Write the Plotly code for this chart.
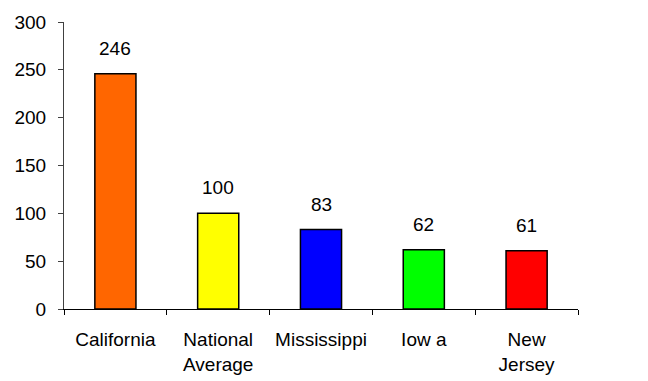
import plotly.graph_objects as go

# Index values by state, national average = 100
categories = ["California", "National<br>Average", "Mississippi", "Iow a", "New<br>Jersey"]
values = [246, 100, 83, 62, 61]
bar_colors = ["#FF6600", "#FFFF00", "#0000FF", "#00FF00", "#FF0000"]

y_ticks = [0, 50, 100, 150, 200, 250, 300]

FONT = "Arial, 'Liberation Sans', sans-serif"

fig = go.Figure()
fig.add_trace(go.Bar(
    x=categories,
    y=values,
    width=0.4,
    marker=dict(color=bar_colors, line=dict(color="#000000", width=1.5)),
    hoverinfo="x+y",
))

# value labels above each bar
for c, v in zip(categories, values):
    fig.add_annotation(
        x=c, y=v, text=str(v), showarrow=False,
        xref="x", yref="y", yanchor="bottom", yshift=13,
        font=dict(family=FONT, size=19, color="#000000"),
    )

fig.update_layout(
    width=648, height=381,
    margin=dict(l=64, r=70, t=22, b=72),
    paper_bgcolor="white", plot_bgcolor="white",
    showlegend=False,
    font=dict(family=FONT, size=19, color="#000000"),
)

fig.update_xaxes(
    type="category", automargin=False,
    showline=True, linecolor="#000000", linewidth=1,
    ticks="outside", tickson="boundaries", ticklen=5, tickcolor="#000000",
    ticklabelstandoff=13,
    showgrid=False, zeroline=False,
    tickfont=dict(family=FONT, size=19, color="#000000"),
)
fig.update_yaxes(
    range=[0, 300], tickvals=y_ticks, automargin=False,
    showline=True, linecolor="#404040", linewidth=1,
    ticks="outside", ticklen=5, tickcolor="#404040",
    ticklabelstandoff=8,
    showgrid=False, zeroline=False,
    tickfont=dict(family=FONT, size=19, color="#000000"),
)

fig.write_html("out.html")
